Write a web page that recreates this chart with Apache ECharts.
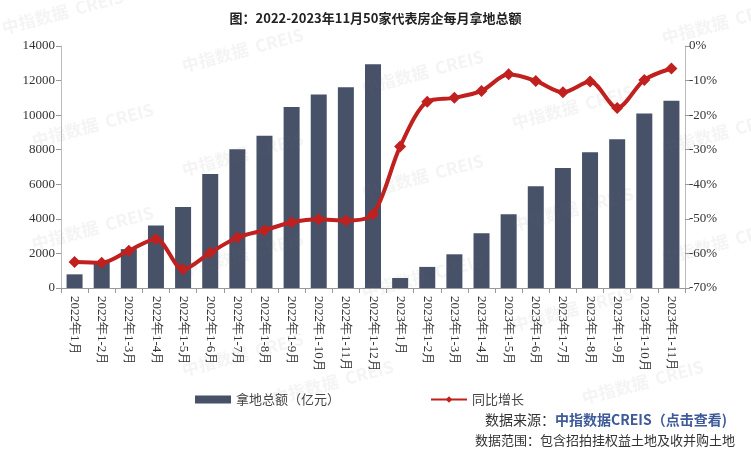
<!DOCTYPE html>
<html><head><meta charset="utf-8">
<script src="https://cdn.jsdelivr.net/npm/echarts@6/dist/echarts.min.js"></script>
<style>html,body{margin:0;padding:0;background:#fff}#c{width:751px;height:468px}</style>
</head><body><div id="c"></div>
<script>
const categories = ['2022年1月','2022年1-2月','2022年1-3月','2022年1-4月','2022年1-5月','2022年1-6月','2022年1-7月','2022年1-8月','2022年1-9月','2022年1-10月','2022年1-11月','2022年1-12月',
'2023年1月','2023年1-2月','2023年1-3月','2023年1-4月','2023年1-5月','2023年1-6月','2023年1-7月','2023年1-8月','2023年1-9月','2023年1-10月','2023年1-11月'];
const landAmount = [790, 1450, 2250, 3610, 4690, 6590, 8020, 8810, 10470, 11200, 11610, 12940,
580, 1220, 1950, 3170, 4270, 5890, 6940, 7860, 8600, 10100, 10830];
const yoyGrowth = [-62.5, -62.7, -59.2, -55.8, -64.6, -59.8, -55.4, -53.3, -51.0, -50.1, -50.5, -48.7,
-29.1, -16.1, -15.0, -13.0, -8.2, -10.1, -13.4, -10.3, -17.9, -9.8, -6.5];
const leftTicks = [0, 2000, 4000, 6000, 8000, 10000, 12000, 14000];
const rightTicks = [-70, -60, -50, -40, -30, -20, -10, 0];

const serif = 'Liberation Serif';
const wm = [];
const wmPos = [[90,143],[90,246],[240,68],[240,172],[240,272],[240,372],[420,90],[420,194],[420,294],[570,125],[570,227],[570,327],[720,40],[720,150],[720,260],[60,30],[330,400],[640,400]];
wmPos.forEach(p => wm.push({type:'text', x:p[0]-60, y:p[1]-10, rotation:0.26, z:100, silent:true,
  style:{text:'中指数据  CREIS', fill:'rgba(120,120,120,0.08)', font:'bold 17px "Noto Sans CJK SC",sans-serif'}}));

const chart = echarts.init(document.getElementById('c'));
chart.setOption({
  animation:false,
  title:{text:'图：2022-2023年11月50家代表房企每月拿地总额', left:'center', top:7,
    textStyle:{fontSize:13, fontWeight:'bold', color:'#222', fontFamily:'Noto Sans CJK SC'}},
  grid:{left:61, right:66, top:46, bottom:180},
  legend:{top:388, left:190, itemGap:90, itemWidth:36, itemHeight:8,
    textStyle:{fontSize:13, color:'#444', fontFamily:'Noto Sans CJK SC'},
    data:[{name:'拿地总额（亿元）', icon:'rect'},{name:'同比增长'}]},
  xAxis:{type:'category', data:categories,
    axisLine:{lineStyle:{color:'#999'}},
    axisTick:{show:true, alignWithLabel:false, length:5, lineStyle:{color:'#999'}},
    axisLabel:{rotate:-90, interval:0, fontSize:13, color:'#333', margin:8, fontFamily:serif}},
  yAxis:[
    {type:'value', min:0, max:14000, interval:2000, splitLine:{show:false},
      axisLine:{show:true, lineStyle:{color:'#bbb'}}, axisTick:{show:true, length:5, lineStyle:{color:'#999'}},
      axisLabel:{fontSize:13, color:'#333', margin:6, fontFamily:serif,
        formatter:v => leftTicks.includes(v) ? String(v) : ''}},
    {type:'value', min:-70, max:0, interval:10, splitLine:{show:false}, position:'right',
      axisLine:{show:true, lineStyle:{color:'#bbb'}}, axisTick:{show:true, length:5, lineStyle:{color:'#999'}},
      axisLabel:{fontSize:13, color:'#333', margin:4, fontFamily:serif,
        formatter:v => rightTicks.includes(v) ? v + '%' : ''}}
  ],
  series:[
    {name:'拿地总额（亿元）', type:'bar', data:landAmount, barWidth:16, itemStyle:{color:'#475168'}},
    {name:'同比增长', type:'line', yAxisIndex:1, data:yoyGrowth, smooth:0.3, symbol:'diamond', symbolSize:12,
      lineStyle:{color:'#c0201e', width:4}, itemStyle:{color:'#c0201e'}}
  ],
  graphic: wm.concat([
    {type:'text', right:24, top:413, style:{rich:{a:{fill:'#333', fontSize:14, fontFamily:'Noto Sans CJK SC'}, b:{fill:'#3e5a99', fontSize:14, fontWeight:'bold', fontFamily:'Noto Sans CJK SC'}},
      text:'{a|数据来源：}{b|中指数据CREIS（点击查看)}'}},
    {type:'text', right:16, top:434, style:{fill:'#333', fontSize:13, fontFamily:'Noto Sans CJK SC', text:'数据范围：包含招拍挂权益土地及收并购土地'}}
  ])
});
</script></body></html>
